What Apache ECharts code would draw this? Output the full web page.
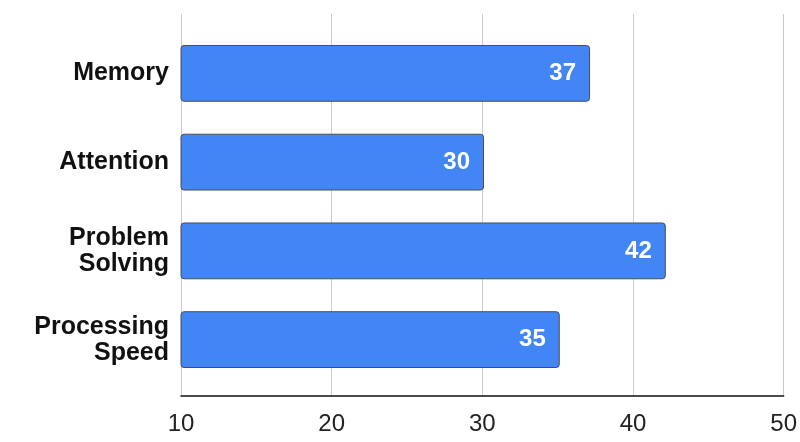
<!DOCTYPE html>
<html><head><meta charset="utf-8">
<script src="https://cdn.jsdelivr.net/npm/echarts@6/dist/echarts.min.js"></script>
<style>html,body{margin:0;padding:0;background:#fff}#c{width:800px;height:442px}</style>
</head><body><div id="c"></div>
<script>
const categories = ['Memory', 'Attention', 'Problem\nSolving', 'Processing\nSpeed'];
const values = [37, 30, 42, 35];
const xMin = 10, xMax = 50, xInterval = 10;

const chart = echarts.init(document.getElementById('c'), null, {renderer: 'canvas'});
chart.setOption({
  animation: false,
  backgroundColor: '#ffffff',
  grid: [
    {left: 181, right: 13, top: 14, bottom: 46, containLabel: false},
    {left: 181, right: 13, top: 29, bottom: 58, containLabel: false}
  ],
  xAxis: [
    {
      type: 'value', gridIndex: 0, min: xMin, max: xMax, interval: xInterval,
      axisLine: {show: true, onZero: false, lineStyle: {color: '#111', width: 1.5}},
      axisTick: {show: false},
      splitLine: {show: true, lineStyle: {color: '#cccccc', width: 1}},
      axisLabel: {color: '#222', fontSize: 24, fontFamily: 'Liberation Sans, Arial, sans-serif', margin: 16}
    },
    {
      type: 'value', gridIndex: 1, min: xMin, max: xMax, interval: xInterval,
      axisLine: {show: false}, axisTick: {show: false}, splitLine: {show: false}, axisLabel: {show: false}
    }
  ],
  yAxis: [
    {
      type: 'category', gridIndex: 0, data: categories, inverse: true,
      axisLine: {show: false}, axisTick: {show: false}, axisLabel: {show: false}, splitLine: {show: false}
    },
    {
      type: 'category', gridIndex: 1, data: categories, inverse: true,
      axisLine: {show: false}, axisTick: {show: false}, splitLine: {show: false},
      axisLabel: {
        color: '#111', fontSize: 25, fontWeight: 'bold', lineHeight: 26,
        fontFamily: 'Liberation Sans, Arial, sans-serif', margin: 12, align: 'right'
      }
    }
  ],
  series: [{
    type: 'bar', xAxisIndex: 1, yAxisIndex: 1, data: values,
    barCategoryGap: '36%',
    itemStyle: {color: '#4285f4', borderColor: '#4d4d4d', borderWidth: 1, borderRadius: 3},
    label: {
      show: true, position: 'insideRight', distance: 14, color: '#ffffff',
      fontSize: 24, fontWeight: 'bold', fontFamily: 'Liberation Sans, Arial, sans-serif'
    }
  }]
});
</script></body></html>
